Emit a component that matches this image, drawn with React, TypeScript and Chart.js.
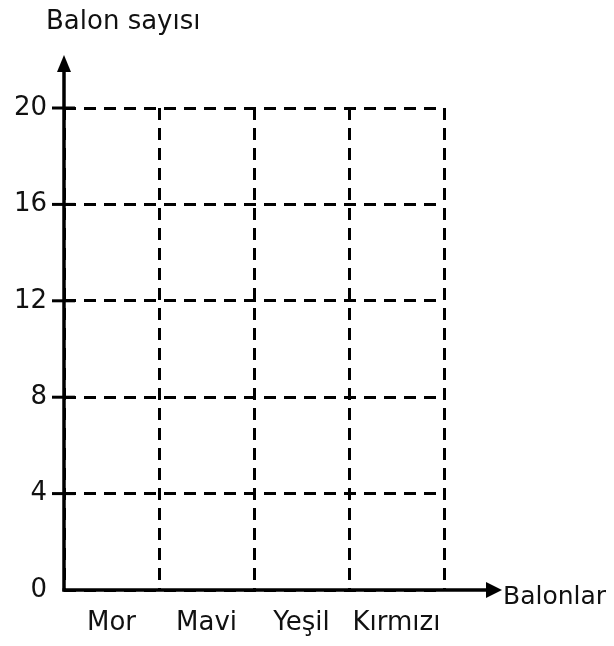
import React, { useEffect, useRef } from "react";
import { Chart, registerables } from "chart.js";

Chart.register(...registerables);

const categories: string[] = ["Mor", "Mavi", "Yeşil", "Kırmızı"];
const balonSayisi: (number | null)[] = [null, null, null, null];
const yTicks: number[] = [0, 4, 8, 12, 16, 20];
const yAxisTitle = "Balon sayısı";
const xAxisTitle = "Balonlar";

const FONT = "'DejaVu Sans', sans-serif";
const TEXT = "#111111";

const axesPlugin = {
  id: "arrowAxes",
  afterDraw(chart: any) {
    const ctx = chart.ctx as CanvasRenderingContext2D;
    const { left, bottom } = chart.chartArea;
    const yScale = chart.scales.y;
    ctx.save();
    ctx.strokeStyle = "#000";
    ctx.fillStyle = "#000";
    ctx.setLineDash([]);
    // tick crosses
    ctx.lineWidth = 3;
    for (const v of yTicks) {
      if (v === 0) continue;
      const py = yScale.getPixelForValue(v);
      ctx.beginPath();
      ctx.moveTo(left - 12, py);
      ctx.lineTo(left + 11, py);
      ctx.stroke();
    }
    // y axis
    ctx.lineWidth = 3.5;
    const yTip = 55;
    ctx.beginPath();
    ctx.moveTo(left, bottom + 1.5);
    ctx.lineTo(left, yTip + 10);
    ctx.stroke();
    ctx.beginPath();
    ctx.moveTo(left, yTip);
    ctx.lineTo(left - 7, yTip + 17);
    ctx.lineTo(left + 7, yTip + 17);
    ctx.closePath();
    ctx.fill();
    // x axis
    const xTip = 502;
    ctx.beginPath();
    ctx.moveTo(left - 1.5, bottom);
    ctx.lineTo(xTip - 10, bottom);
    ctx.stroke();
    ctx.beginPath();
    ctx.moveTo(xTip, bottom);
    ctx.lineTo(xTip - 16, bottom - 8);
    ctx.lineTo(xTip - 16, bottom + 8);
    ctx.closePath();
    ctx.fill();
    // titles
    ctx.fillStyle = TEXT;
    ctx.textAlign = "left";
    ctx.textBaseline = "alphabetic";
    ctx.font = `26px ${FONT}`;
    ctx.fillText(yAxisTitle, 46, 29);
    ctx.font = `25px ${FONT}`;
    ctx.fillText(xAxisTitle, xTip + 1, bottom + 14);
    ctx.restore();
  },
};

export default function App() {
  const ref = useRef<HTMLCanvasElement | null>(null);
  useEffect(() => {
    if (!ref.current) return;
    const chart = new Chart(ref.current, {
      type: "bar",
      data: {
        labels: categories,
        datasets: [
          {
            label: yAxisTitle,
            data: balonSayisi,
            backgroundColor: "#888",
          },
        ],
      },
      options: {
        animation: false,
        responsive: true,
        maintainAspectRatio: false,
        layout: { padding: { top: 108, right: 170, left: 0, bottom: 0 } },
        plugins: {
          legend: { display: false },
          tooltip: { enabled: false },
          title: { display: false },
        },
        scales: {
          x: {
            offset: true,
            afterFit: (s: any) => {
              s.height = 56;
            },
            grid: {
              offset: true,
              color: "#000",
              lineWidth: 3,
              drawTicks: false,
            },
            border: { display: false, dash: [12, 8] },
            ticks: {
              color: TEXT,
              font: { family: FONT, size: 26 },
              padding: 18,
            },
          },
          y: {
            min: 0,
            max: 20,
            afterFit: (s: any) => {
              s.width = 64;
            },
            afterBuildTicks: (s: any) => {
              s.ticks = yTicks.map((v) => ({ value: v }));
            },
            grid: {
              color: "#000",
              lineWidth: 3,
              drawTicks: false,
            },
            border: { display: false, dash: [12, 8] },
            ticks: {
              color: TEXT,
              font: { family: FONT, size: 26 },
              padding: 17,
            },
          },
        },
      },
      plugins: [axesPlugin],
    });
    return () => chart.destroy();
  }, []);
  return (
    <div style={{ margin: -8, width: 614, height: 646, position: "relative", background: "#fff" }}>
      <canvas ref={ref} />
    </div>
  );
}
